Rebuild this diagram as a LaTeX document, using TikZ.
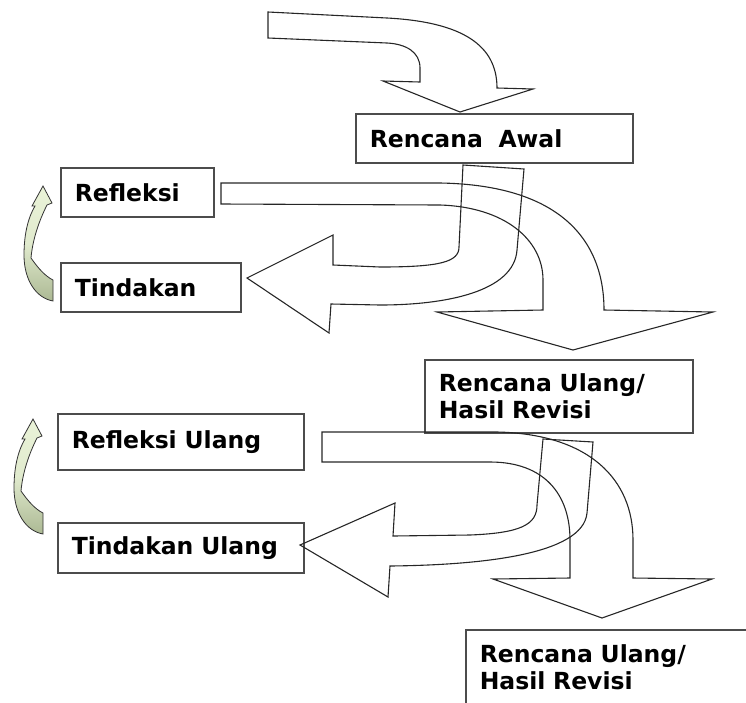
\documentclass[tikz,border=0pt]{standalone}
\usepackage{fontspec}
\setmainfont{DejaVu Sans}
\usetikzlibrary{positioning}
\definecolor{hijaumuda}{RGB}{234,243,216}
\definecolor{hijautua}{RGB}{172,185,148}
\tikzset{
	kotak/.style={draw=black!70, line width=1.5pt, anchor=north west, align=left,
		inner xsep=14pt, inner ysep=0pt, font=\bfseries\fontsize{23.5}{27}\selectfont},
	panah/.style={draw=black!85, line width=1.1pt, line join=miter},
	lengkung/.style={draw=black!80, line width=0.8pt, top color=hijaumuda, bottom color=hijautua, middle color=hijaumuda!85!hijautua},
}
\begin{document}
\begin{tikzpicture}[x=1pt,y=-1pt]
				\useasboundingbox (0,0) rectangle (746,702);
				\clip (0,0) rectangle (746,702);
				\node[kotak, minimum width=277pt, minimum height=49pt, text width=249pt] (awal) at (355,113) {Rencana\ \ Awal};
				\node[kotak, minimum width=153pt, minimum height=49pt, text width=125pt] (refleksi) at (60,167) {Refleksi};
				\node[kotak, minimum width=180pt, minimum height=49pt, text width=152pt] (tindakan) at (60,262) {Tindakan};
				\node[kotak, minimum width=268pt, minimum height=73pt, text width=240pt] (ulangA) at (424,359) {Rencana Ulang/\\Hasil Revisi};
				\node[kotak, minimum width=246pt, minimum height=56pt, text width=218pt] (refleksiU) at (57,413) {Refleksi Ulang};
				\node[kotak, minimum width=246pt, minimum height=50pt, text width=218pt] (tindakanU) at (57,522) {Tindakan Ulang};
				\node[kotak, minimum width=300pt, minimum height=75pt, text width=272pt] (ulangB) at (465,629) {Rencana Ulang/\\Hasil Revisi};
				\draw[panah] (268,12) -- (387,18) .. controls (462,22) and (497,45) .. (497,88) -- (533,89) -- (460,112) -- (383,81) -- (420,82) -- (420,68) .. controls (420,52) and (406,44) .. (387,43) -- (268,38) -- cycle;
				\draw[panah] (463,165) -- (524,169) -- (517,250) .. controls (514,292) and (445,305) .. (380,305) -- (331,304) -- (329,333) -- (247,278) -- (333,235) -- (333,265) -- (380,267) .. controls (440,267) and (459,262) .. (459,247) -- cycle;
				\draw[panah] (221,183) -- (440,183) .. controls (560,185) and (604,240) .. (604,310) -- (713,312) -- (573,350) -- (437,312) -- (543,310) -- (543,280) .. controls (543,240) and (505,207) .. (440,205) -- (221,204) -- cycle;
				\draw[panah] (322,432) -- (497,432) .. controls (590,434) and (633,480) .. (633,540) -- (633,578) -- (712,579) -- (602,618) -- (493,579) -- (570,578) -- (570,540) .. controls (570,495) and (545,462) .. (490,462) -- (322,462) -- cycle;
				\draw[panah] (543,439) -- (593,442) -- (587,513) .. controls (583,555) and (480,565) .. (390,566) -- (388,597) -- (300,545) -- (395,503) -- (393,536) -- (470,535) .. controls (520,533) and (537,525) .. (537,505) -- cycle;
				%\draw[panah] (refleksi.east) -- (ulangA.north);
				\foreach \dx/\dy in {0/0,-10/233}
					\draw[lengkung, shift={(\dx,\dy)}] (53,301) .. controls (36,298) and (24,280) .. (24,255) .. controls (24,232) and (29,216) .. (35,206) -- (32,206) -- (43,186) -- (52,203) -- (47,205) .. controls (42,215) and (33,235) .. (31,258) .. controls (38,268) and (45,276) .. (53,280) -- cycle;
			\end{tikzpicture}
\end{document}
